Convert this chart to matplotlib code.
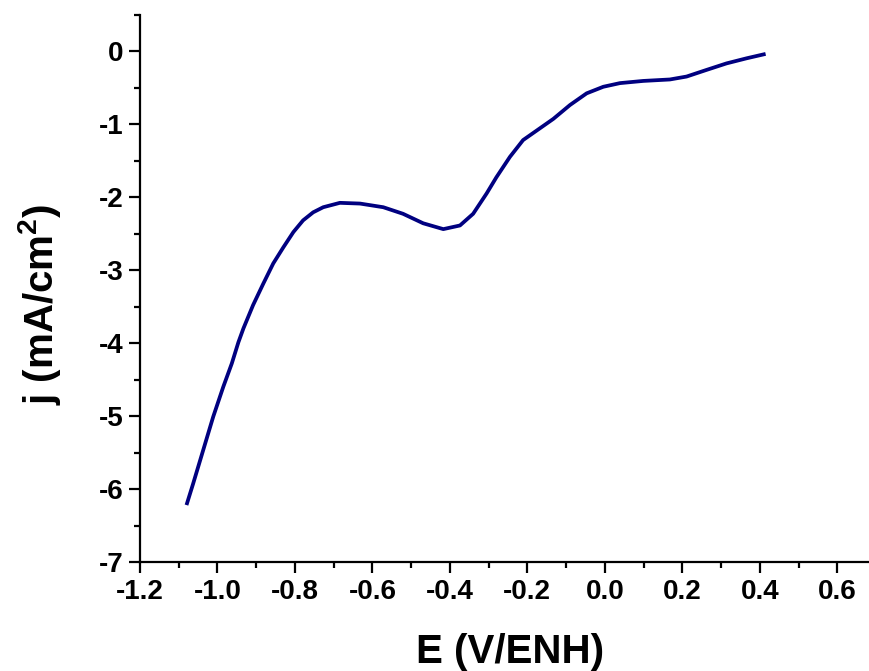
import matplotlib
matplotlib.use("Agg")
import matplotlib.pyplot as plt
from matplotlib.ticker import MultipleLocator, FormatStrFormatter

# Linear sweep voltammetry: current density vs. potential
E = [-1.080, -1.063, -1.037, -1.011, -0.985, -0.963, -0.946, -0.933,
     -0.908, -0.882, -0.856, -0.830, -0.804, -0.779, -0.753, -0.727,
     -0.684, -0.632, -0.572, -0.521, -0.469, -0.417, -0.374, -0.340,
     -0.305, -0.280, -0.245, -0.211, -0.176, -0.133, -0.090, -0.047,
     -0.004, 0.039, 0.099, 0.168, 0.211, 0.262, 0.314, 0.366, 0.415]
j = [-6.22, -5.93, -5.47, -5.01, -4.60, -4.28, -3.99, -3.80,
     -3.48, -3.19, -2.91, -2.69, -2.48, -2.32, -2.21, -2.14,
     -2.08, -2.09, -2.14, -2.23, -2.36, -2.44, -2.39, -2.23,
     -1.95, -1.73, -1.45, -1.22, -1.09, -0.93, -0.74, -0.58,
     -0.49, -0.44, -0.41, -0.39, -0.35, -0.26, -0.17, -0.10, -0.04]

plt.rcParams["font.family"] = ["Liberation Sans", "DejaVu Sans"]
plt.rcParams["font.weight"] = "bold"
plt.rcParams["mathtext.fontset"] = "custom"
plt.rcParams["mathtext.rm"] = "Liberation Sans:bold"
plt.rcParams["mathtext.default"] = "rm"

fig = plt.figure(figsize=(8.70, 6.71), dpi=100)
ax = fig.add_axes([140 / 870, 109 / 671, 736 / 870, 547.5 / 671])

ax.plot(E, j, color="#000080", lw=2.7, solid_joinstyle="round",
        solid_capstyle="butt")

ax.set_xlim(-1.2, 0.7)
ax.set_ylim(-7, 0.5)
ax.xaxis.set_major_locator(MultipleLocator(0.2))
ax.xaxis.set_minor_locator(MultipleLocator(0.1))
ax.yaxis.set_major_locator(MultipleLocator(1))
ax.yaxis.set_minor_locator(MultipleLocator(0.5))
ax.xaxis.set_major_formatter(FormatStrFormatter("%.1f"))
ax.yaxis.set_major_formatter(FormatStrFormatter("%d"))

for s in ("top", "right"):
    ax.spines[s].set_visible(False)
for s in ("left", "bottom"):
    ax.spines[s].set_linewidth(1.6)

ax.tick_params(which="major", direction="out", length=8, width=1.6,
               labelsize=20, pad=4)
ax.tick_params(which="minor", direction="out", length=4, width=1.6)
for lbl in ax.get_xticklabels() + ax.get_yticklabels():
    lbl.set_fontweight("bold")

ax.set_xlabel("E (V/ENH)", fontsize=29, fontweight="bold", va="center")
ax.xaxis.set_label_coords(0.503, -0.164)
ax.set_ylabel(r"j (mA/cm$^{2}$)", fontsize=29, fontweight="bold",
              va="center")
ax.yaxis.set_label_coords(-0.136, 0.47)

fig.savefig("out.png", dpi=100)
